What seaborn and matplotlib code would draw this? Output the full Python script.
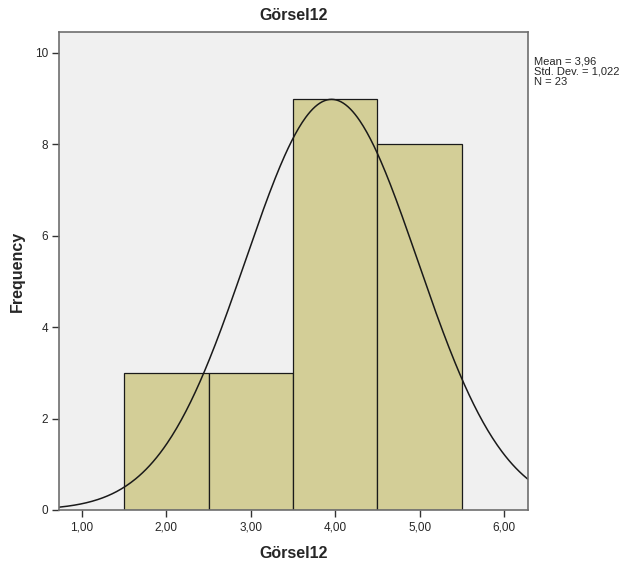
import numpy as np
import pandas as pd
import matplotlib
matplotlib.use("Agg")
import matplotlib.pyplot as plt
import seaborn as sns

# Data
categories = [2.0, 3.0, 4.0, 5.0]
frequencies = [3, 3, 9, 8]
bin_edges = [1.5, 2.5, 3.5, 4.5, 5.5]
x_ticks = [1.0, 2.0, 3.0, 4.0, 5.0, 6.0]
y_ticks = [0, 2, 4, 6, 8, 10]
title = "Görsel12"

sns.set_style("white")
plt.rcParams['font.family'] = ['Liberation Sans', 'DejaVu Sans']

df = pd.DataFrame({"value": categories, "count": frequencies})
vals = np.repeat(df["value"].values, df["count"].values)
n = len(vals)
mean = vals.mean()
sd = vals.std(ddof=1)

fig = plt.figure(figsize=(6.29, 5.66), dpi=100)
ax = fig.add_axes([0.094, 0.099, 0.745, 0.844])
ax.set_facecolor("#F0F0F0")

sns.histplot(data=df, x="value", weights="count", bins=bin_edges, ax=ax,
             color="#D3CE97", edgecolor="#1a1a1a", linewidth=0.9, alpha=1)

xs = np.linspace(0.73, 6.28, 400)
ys = n * 1.0 * np.exp(-0.5 * ((xs - mean) / sd) ** 2) / (sd * np.sqrt(2 * np.pi))
sns.lineplot(x=xs, y=ys, ax=ax, color="#1a1a1a", linewidth=1.1)

ax.set_xlim(0.73, 6.28)
ax.set_ylim(0, 10.45)
ax.set_xticks(x_ticks)
ax.set_xticklabels([f"{t:.2f}".replace(".", ",") for t in x_ticks], fontsize=8.5)
ax.set_yticks(y_ticks)
ax.set_yticklabels([str(t) for t in y_ticks], fontsize=8.5)
ax.tick_params(axis="both", which="both", direction="out", length=5, width=1,
               color="#333333", bottom=True, left=True, pad=3)
for s in ax.spines.values():
    s.set_color("#6e6e6e")
    s.set_linewidth(1.2)

ax.set_title(title, fontsize=11.5, fontweight="bold", pad=9)
ax.set_xlabel(title, fontsize=11.5, fontweight="bold", labelpad=9)
ax.set_ylabel("Frequency", fontsize=11.5, fontweight="bold", labelpad=7)

mean_s = f"{mean:.2f}".replace(".", ",")
sd_s = f"{sd:.3f}".replace(".", ",")
fig.text(0.849, 0.901, f"Mean = {mean_s}\nStd. Dev. = {sd_s}\nN = {n}",
         fontsize=8, va="top", ha="left", linespacing=1.05)

fig.savefig("out.png", dpi=100, facecolor="white")
